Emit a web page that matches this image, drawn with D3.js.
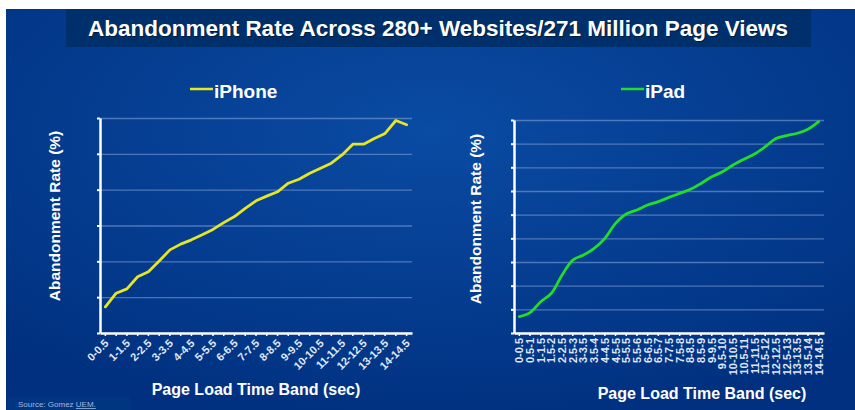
<!DOCTYPE html>
<html><head><meta charset="utf-8">
<script src="https://cdn.jsdelivr.net/npm/d3@7/dist/d3.min.js"></script>
<style>html,body{margin:0;padding:0;background:#fff;}svg{display:block;}</style>
</head><body>
<script>
const title = "Abandonment Rate Across 280+ Websites/271 Million Page Views";
const categories = ["0-0.5","0.5-1","1-1.5","1.5-2","2-2.5","2.5-3","3-3.5","3.5-4","4-4.5","4.5-5","5-5.5","5.5-6","6-6.5","6.5-7","7-7.5","7.5-8","8-8.5","8.5-9","9-9.5","9.5-10","10-10.5","10.5-11","11-11.5","11.5-12","12-12.5","12.5-13","13-13.5","13.5-14","14-14.5"];
const iphoneValues = [0.73,1.11,1.23,1.57,1.71,2.01,2.32,2.48,2.60,2.74,2.89,3.08,3.25,3.48,3.69,3.82,3.94,4.18,4.29,4.46,4.60,4.74,4.97,5.27,5.27,5.43,5.57,5.93,5.81];
const ipadValues = [0.69,0.86,1.32,1.68,2.45,3.08,3.30,3.58,4.00,4.63,5.03,5.20,5.41,5.55,5.73,5.90,6.07,6.32,6.60,6.81,7.10,7.34,7.56,7.87,8.22,8.34,8.44,8.61,8.93];
const iphoneTicks = [0,1,2,3,4,5,6];
const ipadTicks = [0,1,2,3,4,5,6,7,8,9];
const seriesNames = ["iPhone","iPad"];
const yTitle = "Abandonment Rate (%)";
const xTitle = "Page Load Time Band (sec)";
const sourceText = "Source: Gomez ";
const sourceLink = "UEM.";

const W = 855, H = 410;
const svg = d3.select("body").append("svg").attr("width", W).attr("height", H);
const defs = svg.append("defs");
const rg = defs.append("radialGradient").attr("id","bg").attr("cx","50%").attr("cy","30%").attr("r","75%");
rg.append("stop").attr("offset","0%").attr("stop-color","#0a4ba3");
rg.append("stop").attr("offset","100%").attr("stop-color","#00307f");

svg.append("rect").attr("x",6).attr("y",9).attr("width",W-6).attr("height",H-9).attr("fill","url(#bg)");
// title box
svg.append("rect").attr("x",66).attr("y",9).attr("width",745).attr("height",38).attr("fill","#00306b");
const tf = "'Liberation Sans Narrow','Liberation Sans',Arial,sans-serif";
svg.append("text").attr("x",89).attr("y",37).attr("font-family",tf).attr("font-weight","bold")
  .attr("font-size",22).attr("fill","#001a40").attr("textLength",700).attr("lengthAdjust","spacingAndGlyphs").text(title);
svg.append("text").attr("x",88).attr("y",36).attr("font-family",tf).attr("font-weight","bold")
  .attr("font-size",22).attr("fill","#ffffff").attr("textLength",700).attr("lengthAdjust","spacingAndGlyphs").text(title);

// source
svg.append("rect").attr("x",7).attr("y",397).attr("width",123).attr("height",13).attr("fill","#00357f");
const src = svg.append("text").attr("x",18).attr("y",407).attr("font-family","Arial,'Liberation Sans',sans-serif")
  .attr("font-size",8).attr("fill","#9fb8e8");
src.append("tspan").text(sourceText);
src.append("tspan").attr("text-decoration","underline").text(sourceLink);

const ff = "Arial,'Liberation Sans',sans-serif";

function panel(opt){
  const x = d3.scaleBand().domain(categories).range([opt.x0, opt.x1]);
  const y = d3.scaleLinear().domain([0, opt.ymax]).range([333, opt.ytop]);
  const g = svg.append("g");
  // grid
  const grid = g.append("g").attr("transform",`translate(${opt.x0},0)`)
    .call(d3.axisLeft(y).tickValues(opt.ticks.slice(1)).tickSize(-(opt.x1-opt.x0)).tickFormat(""));
  grid.select(".domain").remove();
  grid.selectAll("line").attr("stroke","#8aa6dc").attr("stroke-opacity",0.55).attr("stroke-width",1.3);
  // y axis
  const ya = g.append("g").attr("transform",`translate(${opt.x0},0)`)
    .call(d3.axisLeft(y).tickValues(opt.ticks).tickSize(3).tickSizeOuter(0).tickFormat(""));
  ya.select(".domain").attr("stroke","#fff").attr("stroke-width",2.5);
  ya.selectAll("line").attr("stroke","#fff").attr("stroke-width",2);
  // x axis
  const xa = g.append("g").attr("transform","translate(0,333)")
    .call(d3.axisBottom(x).tickSize(3).tickSizeOuter(0).tickFormat((d,i)=> opt.every2 ? (i%2===0?d:"") : d));
  xa.select(".domain").attr("stroke","#fff").attr("stroke-width",2.5);
  xa.selectAll("line").attr("stroke","#fff").attr("stroke-width",1.5);
  const tx = xa.selectAll("text").attr("fill","#dfe6f5").attr("font-family",ff).attr("font-weight","bold").attr("font-size",11);
  if (opt.every2) {
    tx.attr("text-anchor","end").attr("dy",null).attr("y",0).attr("x",0)
      .attr("transform","translate(4,11) rotate(-45)");
  } else {
    tx.attr("text-anchor","end").attr("dy",null).attr("y",0).attr("x",0)
      .attr("transform","translate(4,5) rotate(-90)");
  }
  // line
  const line = d3.line().x((d,i)=>x(categories[i])+x.bandwidth()/2).y(d=>y(d)).curve(opt.curve);
  g.append("path").datum(opt.values).attr("d",line).attr("fill","none").attr("stroke",opt.color)
    .attr("stroke-width",2.8).attr("stroke-linejoin","round").attr("stroke-linecap","round");
  // legend
  g.append("line").attr("x1",opt.lx).attr("x2",opt.lx+23).attr("y1",89).attr("y2",89)
    .attr("stroke",opt.color).attr("stroke-width",2.5);
  g.append("text").attr("x",opt.lx+24).attr("y",98).attr("font-family",ff).attr("font-weight","bold")
    .attr("font-size",19).attr("fill","#fff").text(opt.name);
  // axis titles
  g.append("text").attr("transform",`translate(${opt.ytx},${opt.yty}) rotate(-90)`).attr("text-anchor","middle")
    .attr("font-family",ff).attr("font-weight","bold").attr("font-size",15.5).attr("fill","#fff").text(yTitle);
  g.append("text").attr("x",opt.xtx).attr("y",opt.xty).attr("text-anchor","middle")
    .attr("font-family",ff).attr("font-weight","bold").attr("font-size",16).attr("fill","#fff").text(xTitle);
}

panel({x0:100, x1:412, ytop:118, ymax:6, ticks:iphoneTicks, values:iphoneValues, color:"#e6e625",
  every2:true, curve:d3.curveLinear, name:seriesNames[0], lx:190, ytx:60, yty:216, xtx:256, xty:395});
panel({x0:514, x1:824, ytop:120, ymax:9, ticks:ipadTicks, values:ipadValues, color:"#22dd2a",
  every2:false, curve:d3.curveCatmullRom, name:seriesNames[1], lx:621, ytx:481, yty:219, xtx:702, xty:399});
</script>
</body></html>
